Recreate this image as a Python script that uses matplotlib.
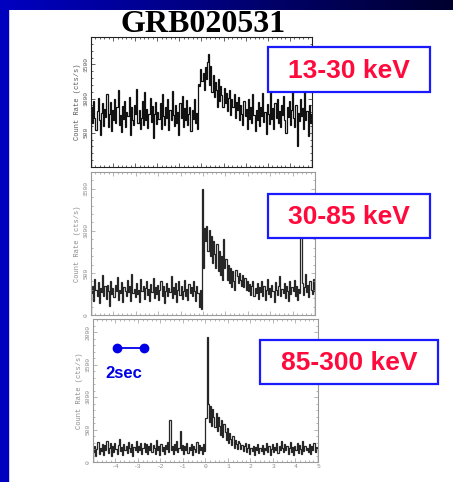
import numpy as np
import matplotlib
matplotlib.use("Agg")
import matplotlib.pyplot as plt
from matplotlib.patches import Rectangle

W, H = 453, 482

title = "GRB020531"
band_labels = ["13-30 keV", "30-85 keV", "85-300 keV"]
scale_label = "2sec"
y_label = "Count Rate (cts/s)"

t_start, bin_width = -5.0, 0.05

rate_13_30 = [
    880, 640, 960, 720, 540, 820, 1010, 680, 470, 790,
    930, 600, 850, 730, 1070, 580, 770, 950, 520, 830,
    690, 990, 640, 870, 1120, 610, 760, 510, 890, 700,
    960, 590, 810, 750, 1030, 470, 880, 690, 620, 910,
    780, 1140, 650, 840, 550, 720, 970, 610, 1090, 690,
    850, 570, 770, 1010, 660, 890, 420, 780, 950, 630,
    800, 700, 930, 560, 1060, 740, 610, 880, 720, 990,
    540, 830, 690, 1110, 760, 600, 900, 650, 810, 470,
    940, 720, 1040, 580, 860, 690, 980, 620, 770, 880,
    530, 840, 700, 1000, 650, 790, 560, 1210, 1180, 1430,
    1250, 1380, 1120, 1460, 1290, 1530, 1650, 1200, 1480, 1090,
    1350, 1020, 1240, 1130, 880, 1280, 960, 1190, 1050, 870,
    1150, 930, 1080, 820, 1010, 1120, 760, 990, 880, 1060,
    720, 950, 840, 1030, 680, 900, 780, 620, 960, 740,
    850, 560, 1000, 700, 880, 640, 1060, 760, 520, 830,
    690, 950, 600, 870, 740, 1080, 660, 810, 480, 920,
    780, 630, 1150, 700, 860, 550, 940, 720, 1000, 640,
    820, 590, 900, 760, 1040, 680, 490, 870, 730, 960,
    610, 840, 1100, 720, 580, 900, 300, 790, 670, 1000,
    740, 860, 550, 1120, 690, 820, 460, 910, 650, 780,
]

rate_30_85 = [
    260, 350, 170, 430, 300, 220, 390, 140, 320, 270,
    470, 230, 340, 190, 360, 280, 110, 400, 250, 320,
    210, 360, 280, 450, 180, 300, 260, 390, 150, 330,
    290, 220, 420, 270, 350, 170, 490, 260, 310, 210,
    380, 250, 300, 150, 430, 280, 340, 190, 320, 400,
    240, 310, 170, 370, 270, 440, 200, 330, 250, 360,
    180, 300, 410, 230, 340, 140, 290, 380, 220, 320,
    270, 460, 200, 330, 250, 380, 160, 300, 410, 240,
    350, 190, 290, 420, 230, 310, 180, 370, 260, 330,
    220, 400, 280, 170, 350, 260, 90, 300, 70, 1500,
    560, 1040, 880, 1060, 760, 1010, 700, 940, 620, 880,
    720, 560, 840, 520, 760, 480, 700, 420, 900, 560,
    660, 420, 600, 380, 560, 330, 520, 400, 300, 540,
    460, 380, 500, 420, 350, 470, 330, 440, 300, 400,
    280, 370, 240, 340, 410, 220, 320, 260, 380, 190,
    330, 270, 400, 230, 350, 180, 300, 430, 250, 320,
    210, 360, 280, 150, 390, 300, 240, 340, 460, 220,
    310, 260, 380, 200, 340, 280, 170, 400, 250, 330,
    290, 420, 220, 350, 180, 310, 260, 920, 380, 240,
    330, 490, 270, 360, 210, 400, 300, 250, 430, 280,
]

rate_85_300 = [
    150, 240, 90, 200, 310, 130, 220, 170, 280, 110,
    260, 180, 330, 140, 210, 290, 100, 240, 160, 300,
    200, 120, 260, 350, 170, 230, 110, 280, 190, 250,
    140, 310, 210, 160, 270, 100, 230, 190, 320, 150,
    250, 180, 290, 130, 220, 300, 160, 270, 120, 240,
    190, 300, 150, 260, 220, 130, 340, 180, 240, 110,
    280, 170, 230, 120, 260, 200, 310, 150, 650, 190,
    240, 130, 270, 180, 330, 160, 220, 480, 190, 260,
    120, 250, 180, 300, 140, 230, 190, 280, 110, 240,
    200, 160, 310, 140, 260, 190, 230, 120, 280, 170,
    680, 1930, 900, 620, 860, 560, 820, 700, 540, 760,
    480, 700, 560, 420, 640, 380, 580, 460, 340, 520,
    300, 440, 360, 260, 400, 220, 340, 280, 200, 320,
    290, 200, 260, 170, 240, 300, 150, 220, 270, 130,
    210, 170, 250, 110, 230, 190, 280, 140, 210, 170,
    260, 120, 220, 180, 300, 150, 240, 110, 200, 270,
    160, 230, 190, 290, 140, 250, 180, 320, 210, 150,
    270, 190, 240, 130, 220, 310, 160, 230, 110, 250,
    180, 290, 140, 260, 200, 120, 330, 170, 240, 190,
    220, 150, 280, 130, 250, 190, 300, 160, 230, 210,
]

x_ticks = [-5, -4, -3, -2, -1, 0, 1, 2, 3, 4, 5]
x_tick_labels = ["", "-4", "-3", "-2", "-1", "0", "1", "2", "3", "4", "5"]
y_ticks = [[500, 1000, 1500], [0, 500, 1000, 1500], [0, 500, 1000, 1500, 2000]]
y_limits = [(200, 1900), (0, 1700), (0, 2200)]

# panel rectangles in pixels: left, top, right, bottom
panel_px = [(91, 37, 312, 167), (91, 172, 315, 315), (93, 319, 318, 462)]
frame_colors = ["#222222", "#9a9a9a", "#9a9a9a"]
line_colors = ["#111111", "#262626", "#262626"]
label_colors = ["#555555", "#8a8a8a", "#8a8a8a"]

fig = plt.figure(figsize=(W / 100, H / 100), dpi=100)

# slide background
bg = fig.add_axes([0, 0, 1, 1], zorder=0)
bg.set_xlim(0, W)
bg.set_ylim(H, 0)
bg.axis("off")
bg.add_patch(Rectangle((0, 0), W, H, color="white"))
grad = np.linspace(0, 1, 256)
band = np.zeros((1, 256, 3))
band[0, :, 2] = 0.76 - 0.58 * grad
bg.imshow(band, extent=[0, W, 10, 0], aspect="auto", zorder=1)
bg.add_patch(Rectangle((0, 0), 8, H, color="#0000bf", zorder=2))

mono = "Liberation Mono"
series = [rate_13_30, rate_30_85, rate_85_300]
for i, vals in enumerate(series):
    l, t, r, b = panel_px[i]
    ax = fig.add_axes([l / W, 1 - b / H, (r - l) / W, (b - t) / H], zorder=1 + i)
    edges = t_start + bin_width * np.arange(len(vals) + 1)
    ax.stairs(vals, edges, color=line_colors[i], lw=0.9)
    ax.set_xlim(-5, 5)
    ax.set_ylim(*y_limits[i])
    ax.set_xticks(x_ticks)
    if i == 2:
        ax.set_xticklabels(x_tick_labels, fontsize=4.5, family=mono,
                           color=label_colors[i])
    else:
        ax.set_xticklabels([])
    ax.set_xticks(np.arange(-5, 5.01, 0.2), minor=True)
    ax.set_yticks(y_ticks[i])
    ax.set_yticklabels([str(v) for v in y_ticks[i]], fontsize=4.5, family=mono,
                       color=label_colors[i], rotation=90, va="center")
    ax.set_yticks(np.arange(0, y_limits[i][1] + 1, 100), minor=True)
    ax.tick_params(which="both", direction="in", top=True, right=True,
                   color=frame_colors[i], width=0.5, pad=1.5)
    ax.tick_params(which="major", length=3)
    ax.tick_params(which="minor", length=1.5)
    for s in ax.spines.values():
        s.set_color(frame_colors[i])
        s.set_linewidth(0.8)
    ax.set_ylabel(y_label, fontsize=5, family=mono, color=label_colors[i],
                  labelpad=2)

# annotations on top
ov = fig.add_axes([0, 0, 1, 1], zorder=10)
ov.set_xlim(0, W)
ov.set_ylim(H, 0)
ov.axis("off")
ov.patch.set_alpha(0)

ov.text(203, 32, title, ha="center", va="baseline", fontsize=23,
        family="Liberation Serif", weight="bold", color="black")

boxes = [(268, 47, 430, 92), (268, 194, 430, 238), (260, 340, 438, 384)]
for (x0, y0, x1, y1), lab in zip(boxes, band_labels):
    ov.add_patch(Rectangle((x0, y0), x1 - x0, y1 - y0, facecolor="white",
                           edgecolor="#1a1aff", lw=1.6))
    ov.text((x0 + x1) / 2, (y0 + y1) / 2 + 1, lab, ha="center", va="center",
            fontsize=19, family="Liberation Sans", weight="bold",
            color="#ff0a3c")

ov.plot([117, 144], [348, 348], color="#0000e6", lw=1.3)
ov.plot([117, 144], [348, 348], "o", color="#0000e6", ms=6)
ov.text(124, 373, scale_label, ha="center", va="center", fontsize=12,
        family="Liberation Sans", weight="bold", color="#0000e6")

fig.savefig("out.png", dpi=100)
